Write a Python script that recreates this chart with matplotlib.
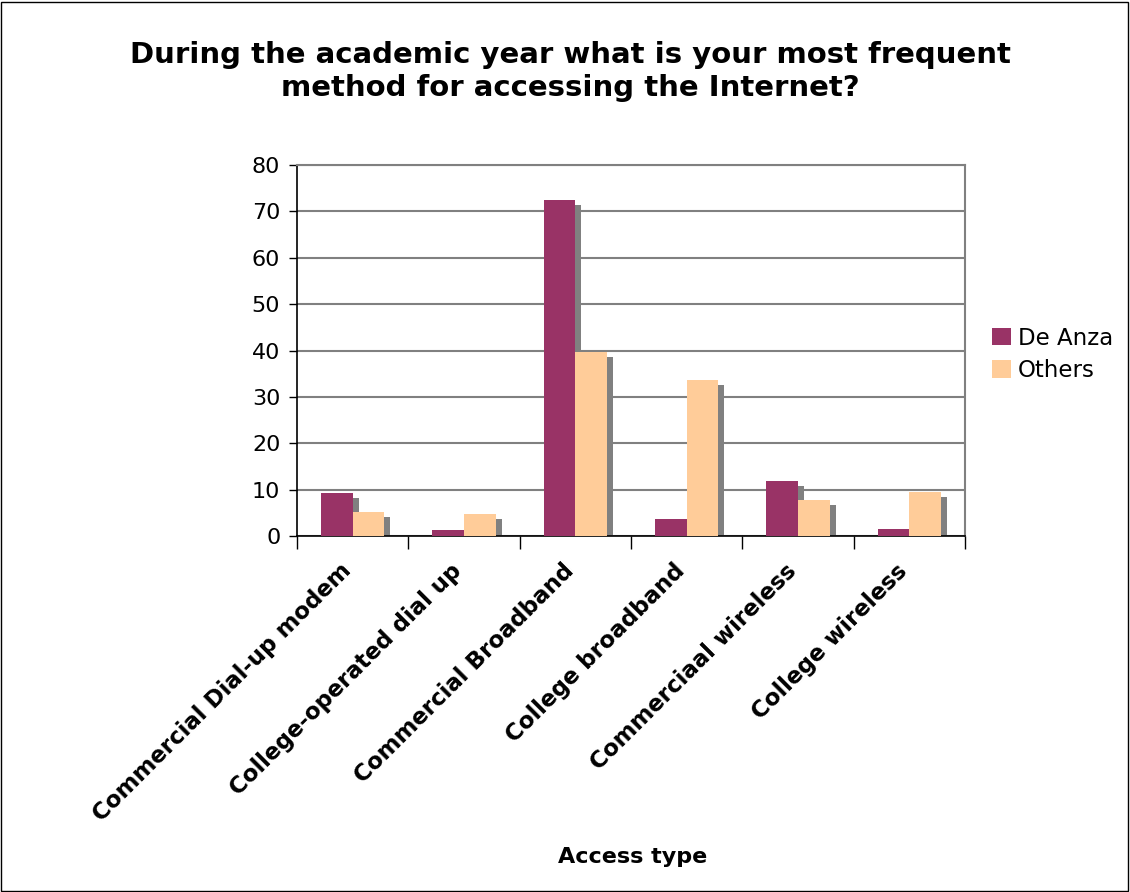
import matplotlib.pyplot as plt
import numpy as np
from matplotlib.patches import Rectangle

categories = ["Commercial Dial-up modem", "College-operated dial up", "Commercial Broadband",
              "College broadband", "Commerciaal wireless", "College wireless"]
de_anza = [9.2, 1.3, 72.4, 3.6, 11.8, 1.6]
others = [5.1, 4.7, 39.6, 33.6, 7.8, 9.4]
series_names = ["De Anza", "Others"]
colors = ["#993366", "#FFCC99"]

fig = plt.figure(figsize=(11.3, 8.92), dpi=100)
fig.patches.append(Rectangle((0.001, 0.001), 0.997, 0.997, transform=fig.transFigure,
                             fill=False, edgecolor="black", linewidth=1))
ax = fig.add_axes([0.2628, 0.399, 0.5912, 0.416])

x = np.arange(len(categories))
w = 1 / 3.5
# shadow offset in data units (approx 6 px right, 5 px down)
dx = 6 / 111.3
dy = 5 / 4.6375
for i, vals in enumerate([de_anza, others]):
    pos = x - w / 2 + i * w
    ax.bar(pos + dx, np.maximum(np.array(vals) - dy, 0), width=w, color="#808080", zorder=2)
    ax.bar(pos, vals, width=w, color=colors[i], zorder=3, label=series_names[i])

ax.set_xlim(-0.5, len(categories) - 0.5)
ax.set_ylim(0, 80)
ax.set_yticks(range(0, 81, 10))
ax.yaxis.grid(True, color="#808080", linewidth=1.5, zorder=1)
ax.set_axisbelow(True)
ax.tick_params(axis="y", labelsize=16, length=6, width=1, direction="out", pad=6)
ax.set_xticks(np.arange(-0.5, len(categories)))
ax.set_xticklabels([])
ax.tick_params(axis="x", length=9, width=1, direction="out")
for xi, name in zip(x, categories):
    ax.text(xi - 0.12, -5, name, rotation=45, ha="right", va="top", rotation_mode="anchor",
            fontsize=16.5, fontweight="bold")
for side in ["top", "right"]:
    ax.spines[side].set_color("#808080")
    ax.spines[side].set_linewidth(1.5)
for side in ["left", "bottom"]:
    ax.spines[side].set_color("black")
    ax.spines[side].set_linewidth(1.2)

fig.text(0.505, 0.92, "During the academic year what is your most frequent\nmethod for accessing the Internet?",
         ha="center", va="center", fontsize=21, fontweight="bold", linespacing=1.2)
fig.text(0.56, 0.039, "Access type", ha="center", va="center", fontsize=16, fontweight="bold")

ax.legend(loc="center left", bbox_to_anchor=(1.01, 0.49), bbox_transform=ax.transAxes,
          frameon=False, fontsize=16.5, handlelength=0.8, handleheight=0.8, handletextpad=0.3,
          labelspacing=0.4)

fig.savefig("out.png", dpi=100)
